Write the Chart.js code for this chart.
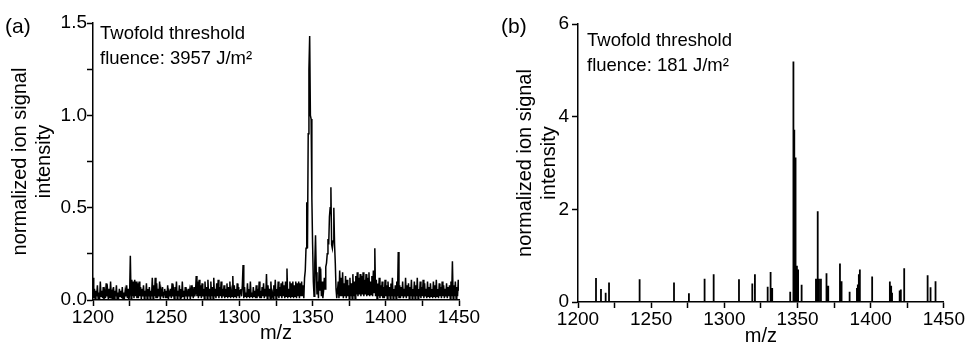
<!DOCTYPE html>
<html lang="en">
<head>
    <meta charset="UTF-8">
    <title>Ion signal spectra</title>
    <script src="https://cdn.jsdelivr.net/npm/chart.js"></script>
    <style>
        body { margin: 0; background: #fff; }
        .panel { position: absolute; top: 0; height: 345px; }
        #panelA { left: 0; width: 482px; }
        #panelB { left: 482px; width: 483px; }
    </style>
</head>
<body>
    <div class="panel" id="panelA"><canvas id="chartA"></canvas></div>
    <div class="panel" id="panelB"><canvas id="chartB"></canvas></div>

    <script>
        // (a) 3957 J/m2 - sampled every 0.5 m/z from 1200
        const mzStartA = 1200;
        const mzStepA = 0.5;
        const intensityA = [
            0.12,0.01,0.06,0.00,0.05,0.02,0.08,0.01,0.04,0.00,0.10,0.02,0.05,0.01,0.07,0.00,0.04,0.01,0.09,0.02,
            0.05,0.00,0.06,0.01,0.10,0.02,0.04,0.00,0.07,0.01,0.05,0.02,0.08,0.00,0.04,0.01,0.06,0.02,0.05,0.01,
            0.07,0.00,0.04,0.01,0.05,0.02,0.08,0.01,0.06,0.00,0.03,0.24,0.01,0.11,0.02,0.10,0.01,0.11,0.02,0.10,
            0.01,0.09,0.01,0.10,0.02,0.07,0.00,0.06,0.02,0.08,0.01,0.05,0.02,0.09,0.00,0.06,0.02,0.07,0.01,0.05,
            0.02,0.12,0.01,0.08,0.02,0.12,0.01,0.09,0.01,0.06,0.02,0.10,0.00,0.05,0.02,0.07,0.01,0.04,0.06,0.01,
            0.05,0.01,0.08,0.00,0.04,0.02,0.06,0.01,0.09,0.02,0.05,0.00,0.07,0.02,0.10,0.01,0.05,0.02,0.08,0.01,
            0.06,0.01,0.10,0.02,0.05,0.00,0.07,0.02,0.04,0.01,0.06,0.02,0.05,0.00,0.08,0.02,0.05,0.01,0.07,0.02,
            0.04,0.13,0.02,0.10,0.01,0.11,0.02,0.08,0.01,0.09,0.02,0.06,0.01,0.10,0.02,0.07,0.01,0.11,0.02,0.06,
            0.01,0.10,0.02,0.07,0.01,0.12,0.02,0.06,0.01,0.09,0.02,0.11,0.01,0.07,0.02,0.10,0.01,0.06,0.02,0.08,
            0.01,0.06,0.02,0.09,0.01,0.07,0.02,0.10,0.01,0.05,0.02,0.13,0.01,0.08,0.02,0.06,0.01,0.09,0.02,0.07,
            0.01,0.05,0.06,0.02,0.08,0.19,0.01,0.07,0.02,0.04,0.01,0.09,0.02,0.06,0.01,0.10,0.02,0.04,0.01,0.07,
            0.02,0.05,0.01,0.08,0.01,0.06,0.02,0.10,0.01,0.05,0.01,0.07,0.02,0.09,0.01,0.06,0.02,0.14,0.01,0.08,
            0.02,0.06,0.01,0.10,0.02,0.04,0.01,0.08,0.02,0.11,0.01,0.06,0.02,0.10,0.01,0.07,0.02,0.09,0.01,0.10,
            0.02,0.08,0.01,0.10,0.02,0.17,0.01,0.06,0.02,0.10,0.01,0.09,0.02,0.10,0.01,0.08,0.02,0.10,0.01,0.09,
            0.02,0.10,0.01,0.09,0.02,0.10,0.02,0.08,0.01,0.12,0.16,0.28,0.53,0.28,0.90,1.25,1.43,1.00,0.98,0.55,
            0.30,0.10,0.02,0.20,0.35,0.15,0.03,0.10,0.01,0.18,0.05,0.17,0.02,0.10,0.01,0.05,0.12,0.06,0.18,0.20,
            0.25,0.33,0.30,0.45,0.50,0.61,0.30,0.28,0.32,0.50,0.30,0.20,0.06,0.01,0.05,0.10,0.01,0.16,0.02,0.12,
            0.02,0.15,0.01,0.09,0.02,0.13,0.01,0.11,0.02,0.08,0.01,0.12,0.02,0.09,0.01,0.14,0.02,0.10,0.01,0.13,
            0.03,0.15,0.02,0.12,0.03,0.14,0.02,0.13,0.03,0.15,0.02,0.11,0.03,0.14,0.02,0.12,0.03,0.15,0.02,0.10,
            0.03,0.13,0.02,0.16,0.04,0.28,0.02,0.11,0.01,0.09,0.02,0.12,0.01,0.08,0.02,0.10,0.01,0.07,0.01,0.11,
            0.02,0.08,0.01,0.10,0.02,0.07,0.01,0.09,0.02,0.12,0.01,0.06,0.02,0.08,0.01,0.10,0.02,0.26,0.01,0.08,
            0.01,0.07,0.02,0.10,0.01,0.06,0.02,0.12,0.01,0.08,0.02,0.09,0.01,0.07,0.02,0.11,0.01,0.06,0.02,0.10,
            0.01,0.08,0.02,0.12,0.01,0.06,0.02,0.10,0.01,0.07,0.02,0.11,0.01,0.09,0.02,0.06,0.01,0.10,0.02,0.07,
            0.01,0.09,0.02,0.06,0.01,0.10,0.02,0.08,0.01,0.11,0.02,0.06,0.01,0.09,0.02,0.07,0.01,0.10,0.02,0.08,
            0.01,0.06,0.02,0.09,0.01,0.07,0.02,0.08,0.01,0.10,0.02,0.21,0.01,0.08,0.02,0.10,0.01,0.07,0.02,0.11,
            0.05
        ];

        // (b) 181 J/m2 - isolated sticks on a zero baseline
        const peakMzB = [
            1212.3, 1215.7, 1218.9, 1221.2, 1242.1, 1265.6, 1275.8, 1286.5, 1292.7, 1310.0,
            1319.1, 1320.9, 1329.6, 1331.6, 1332.7, 1345.0, 1347.2, 1347.8, 1348.3, 1348.9,
            1349.6, 1350.4, 1352.8, 1362.6, 1363.8, 1364.7, 1366.0, 1369.8, 1371.0, 1379.0,
            1380.1, 1385.6, 1390.6, 1391.2, 1391.9, 1392.6, 1401.0, 1413.1, 1414.0, 1414.6,
            1419.8, 1420.6, 1422.9, 1438.9, 1440.9, 1444.3
        ];
        const peakHeightB = [
            0.52, 0.28, 0.20, 0.42, 0.49, 0.42, 0.19, 0.50, 0.60, 0.49,
            0.40, 0.60, 0.33, 0.65, 0.30, 0.22, 5.19, 3.72, 3.12, 2.02,
            0.78, 0.70, 0.37, 0.50, 1.96, 0.50, 0.50, 0.62, 0.35, 0.83,
            0.45, 0.22, 0.30, 0.38, 0.60, 0.70, 0.55, 0.44, 0.35, 0.20,
            0.25, 0.27, 0.73, 0.58, 0.32, 0.45
        ];

        const xTicks = [1200, 1250, 1300, 1350, 1400, 1450];
        const yTicksA = [0, 0.5, 1.0, 1.5];
        const yTicksB = [0, 2, 4, 6];

        const FONT = '"Liberation Sans", Arial, sans-serif';

        const dataA = intensityA.map((v, i) => ({ x: mzStartA + i * mzStepA, y: v }));
        const dataB = [{ x: 1200, y: 0 }];
        peakMzB.forEach((mz, i) => {
            dataB.push({ x: mz, y: 0 }, { x: mz, y: peakHeightB[i] }, { x: mz, y: 0 });
        });
        dataB.push({ x: 1450, y: 0 });

        // panel letter and fluence note
        const panelText = {
            id: 'panelText',
            afterDraw(chart, args, opts) {
                const ctx = chart.ctx;
                const area = chart.chartArea;
                ctx.save();
                ctx.fillStyle = '#000';
                ctx.textBaseline = 'alphabetic';
                ctx.font = '21px ' + FONT;
                ctx.fillText(opts.letter, opts.letterX, 33);
                ctx.font = '18.5px ' + FONT;
                opts.lines.forEach((t, i) => {
                    ctx.fillText(t, area.left + opts.dx, area.top + opts.dy + i * 25);
                });
                ctx.restore();
            }
        };

        function makeChart(id, data, cfg) {
            return new Chart(document.getElementById(id), {
                type: 'line',
                data: {
                    datasets: [{
                        data: data,
                        borderColor: '#000',
                        borderWidth: cfg.lineWidth,
                        pointRadius: 0,
                        tension: 0,
                        fill: false
                    }]
                },
                options: {
                    responsive: true,
                    maintainAspectRatio: false,
                    animation: false,
                    layout: { padding: { top: cfg.top, right: cfg.right, left: 0, bottom: 0 } },
                    plugins: {
                        legend: { display: false },
                        tooltip: { enabled: false },
                        panelText: cfg.text
                    },
                    scales: {
                        x: {
                            type: 'linear',
                            min: 1200,
                            max: 1450,
                            afterFit: s => { s.height = cfg.xHeight; },
                            border: { display: true, color: '#000', width: 1.5 },
                            grid: { drawOnChartArea: false, tickLength: 6, tickColor: '#000', tickWidth: 1.5 },
                            ticks: {
                                stepSize: 25,
                                autoSkip: false,
                                maxRotation: 0,
                                padding: 0,
                                color: '#000',
                                font: { family: FONT, size: 19 },
                                callback: v => xTicks.includes(v) ? String(v) : ''
                            },
                            title: {
                                display: true,
                                text: 'm/z',
                                color: '#000',
                                font: { family: FONT, size: 20 },
                                padding: { top: 0, bottom: cfg.xTitlePad }
                            }
                        },
                        y: {
                            min: 0,
                            max: cfg.yMax,
                            afterFit: s => { s.width = cfg.yWidth; },
                            border: { display: true, color: '#000', width: 1.5 },
                            grid: { drawOnChartArea: false, tickLength: 6, tickColor: '#000', tickWidth: 1.5 },
                            ticks: {
                                stepSize: cfg.yStep,
                                autoSkip: false,
                                padding: cfg.yTickPad,
                                color: '#000',
                                font: { family: FONT, size: 19 },
                                callback: v => {
                                    const hit = cfg.yTicks.find(t => Math.abs(t - v) < 1e-6);
                                    return hit === undefined ? '' : v.toFixed(cfg.decimals);
                                }
                            },
                            title: {
                                display: true,
                                text: ['normalized ion signal', 'intensity'],
                                color: '#000',
                                font: { family: FONT, size: 20 },
                                padding: { top: cfg.yTitlePad, bottom: 0 }
                            }
                        }
                    }
                },
                plugins: [panelText]
            });
        }

        makeChart('chartA', dataA, {
            lineWidth: 1.5, top: 23, right: 23, xHeight: 45, yWidth: 93,
            yMax: 1.5, yStep: 0.25, yTicks: yTicksA, decimals: 1, yTickPad: 0,
            yTitlePad: 8, xTitlePad: 0,
            text: { letter: '(a)', letterX: 5, dx: 7, dy: 16,
                    lines: ['Twofold threshold', 'fluence: 3957 J/m\u00B2'] }
        });

        makeChart('chartB', dataB, {
            lineWidth: 1.8, top: 24, right: 21, xHeight: 43, yWidth: 96,
            yMax: 6, yStep: 2, yTicks: yTicksB, decimals: 0, yTickPad: 3,
            yTitlePad: 31, xTitlePad: -3,
            text: { letter: '(b)', letterX: 19, dx: 9, dy: 22,
                    lines: ['Twofold threshold', 'fluence: 181 J/m\u00B2'] }
        });
    </script>
</body>
</html>
